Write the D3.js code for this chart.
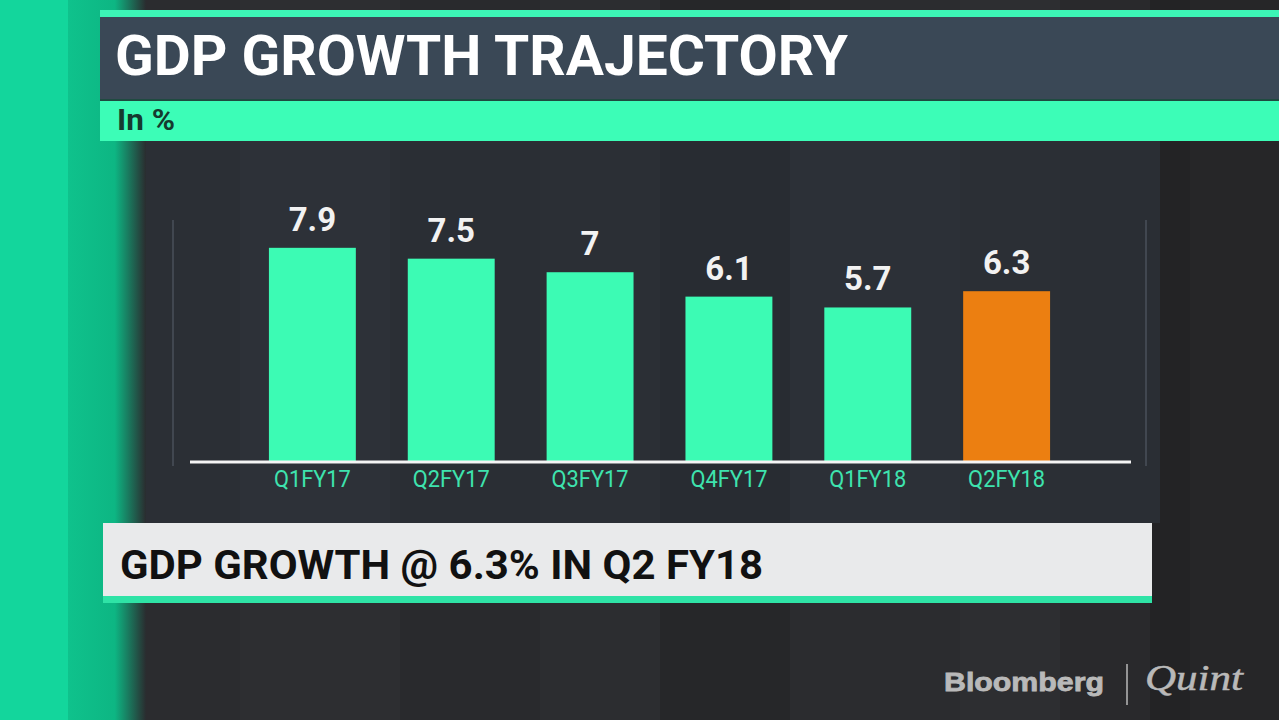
<!DOCTYPE html>
<html>
<head>
<meta charset="utf-8">
<script src="https://cdn.jsdelivr.net/npm/d3@7"></script>
<style>
  html, body { margin: 0; padding: 0; background: #28292c; overflow: hidden; }
  svg { display: block; }
</style>
</head>
<body>
<svg id="chart" width="1279" height="720"></svg>
<script>
// ---- data ----
const categories = ["Q1FY17", "Q2FY17", "Q3FY17", "Q4FY17", "Q1FY18", "Q2FY18"];
const growth = [7.9, 7.5, 7, 6.1, 5.7, 6.3];
const highlight = [false, false, false, false, false, true];
const titleText = "GDP GROWTH TRAJECTORY";
const unitText = "In %";
const captionText = "GDP GROWTH @ 6.3% IN Q2 FY18";

const svg = d3.select("#chart");
const W = 1279, H = 720;
const defs = svg.append("defs");

// left strip shadow gradient
const lg = defs.append("linearGradient").attr("id", "stripFade").attr("x1", 0).attr("x2", 1);
lg.append("stop").attr("offset", 0).attr("stop-color", "#0fc28c");
lg.append("stop").attr("offset", 0.6).attr("stop-color", "#0db683");
lg.append("stop").attr("offset", 1).attr("stop-color", "#2a2c2f");

// ---- background ----
svg.append("rect").attr("width", W).attr("height", H).attr("fill", "#28292c");
// subtle vertical stripes (decor)
const stripes = [[140, 100, "#2b2c2f"], [240, 160, "#2d2e31"], [400, 140, "#292a2d"], [540, 120, "#2c2d30"],
                 [660, 130, "#262729"], [790, 170, "#2b2c2f"], [960, 100, "#2d2e31"], [1060, 90, "#29292c"],
                 [1150, 40, "#232325"], [1190, 89, "#262628"]];
svg.append("g").selectAll("rect").data(stripes).join("rect")
  .attr("x", d => d[0]).attr("y", 0).attr("width", d => d[1]).attr("height", H).attr("fill", d => d[2]);

// chart panel
svg.append("rect").attr("x", 140).attr("y", 141).attr("width", 1020).attr("height", 382).attr("fill", "#2b2f35");
const panelStripes = [[240, 150, "#2d3138"], [400, 140, "#2a2e34"], [660, 130, "#282c32"], [790, 170, "#2c3037"], [1060, 100, "#2a2e34"]];
svg.append("g").selectAll("rect").data(panelStripes).join("rect")
  .attr("x", d => d[0]).attr("y", 141).attr("width", d => d[1]).attr("height", 382).attr("fill", d => d[2]);

// left green strip
svg.append("rect").attr("x", 0).attr("y", 0).attr("width", 68).attr("height", H).attr("fill", "#13d69c");
svg.append("rect").attr("x", 68).attr("y", 0).attr("width", 78).attr("height", H).attr("fill", "url(#stripFade)");

// ---- title block ----
svg.append("rect").attr("x", 100).attr("y", 10).attr("width", W - 100).attr("height", 7).attr("fill", "#3cf5b6");
svg.append("rect").attr("x", 100).attr("y", 17).attr("width", W - 100).attr("height", 83).attr("fill", "#3a4856");
svg.append("rect").attr("x", 100).attr("y", 99).attr("width", W - 100).attr("height", 2).attr("fill", "#1f4a40");
svg.append("rect").attr("x", 100).attr("y", 101).attr("width", W - 100).attr("height", 40).attr("fill", "#3cfdb7");

svg.append("text").attr("x", 115).attr("y", 75)
  .attr("font-family", "Roboto, 'Noto Sans', sans-serif").attr("font-weight", 700)
  .attr("font-size", 56).attr("fill", "#ffffff")
  .attr("textLength", 733).attr("lengthAdjust", "spacingAndGlyphs")
  .text(titleText);

svg.append("text").attr("x", 117).attr("y", 130)
  .attr("font-family", "Roboto, 'Noto Sans', sans-serif").attr("font-weight", 700)
  .attr("font-size", 29).attr("fill", "#153a2f")
  .attr("textLength", 58).attr("lengthAdjust", "spacingAndGlyphs")
  .text(unitText);

// ---- chart ----
const x = d3.scaleBand().domain(categories).range([199.5, 1119.5]).paddingInner(0.374).paddingOuter(0.5);
const y = d3.scaleLinear().domain([0, 9]).range([462, 218]);

// faint frame lines
svg.append("line").attr("x1", 173).attr("x2", 173).attr("y1", 220).attr("y2", 466).attr("stroke", "#4a515a").attr("stroke-width", 1.5);
svg.append("line").attr("x1", 1146).attr("x2", 1146).attr("y1", 220).attr("y2", 466).attr("stroke", "#4a515a").attr("stroke-width", 1.5);

const gBars = svg.append("g");
gBars.selectAll("rect").data(categories).join("rect")
  .attr("x", d => x(d))
  .attr("y", (d, i) => y(growth[i]))
  .attr("width", x.bandwidth())
  .attr("height", (d, i) => y(0) - y(growth[i]))
  .attr("fill", (d, i) => highlight[i] ? "#ec7f11" : "#3cfbb4");

gBars.selectAll("text").data(categories).join("text")
  .attr("x", d => x(d) + x.bandwidth() / 2)
  .attr("y", (d, i) => y(growth[i]) - 17)
  .attr("text-anchor", "middle")
  .attr("font-family", "Roboto, 'Noto Sans', sans-serif").attr("font-weight", 700)
  .attr("font-size", 33).attr("fill", "#f2f2f2")
  .text((d, i) => growth[i]);

// x axis
const xAxis = svg.append("g").attr("transform", "translate(0,462)")
  .call(d3.axisBottom(x).tickSize(0).tickPadding(10));
xAxis.select(".domain").remove();
xAxis.append("line").attr("x1", 190).attr("x2", 1131).attr("y1", 0).attr("y2", 0)
  .attr("stroke", "#f4f4f4").attr("stroke-width", 3);
xAxis.selectAll(".tick text")
  .attr("font-family", "Roboto, 'Noto Sans', sans-serif").attr("font-size", 23)
  .attr("fill", "#3ee3ae").attr("dy", "0.65em")
  .attr("textLength", 77).attr("lengthAdjust", "spacingAndGlyphs");

// ---- caption block ----
svg.append("rect").attr("x", 103).attr("y", 523).attr("width", 1049).attr("height", 74).attr("fill", "#e9eaeb");
svg.append("rect").attr("x", 103).attr("y", 596).attr("width", 1049).attr("height", 7).attr("fill", "#2fe3a6");
svg.append("text").attr("x", 120).attr("y", 579)
  .attr("font-family", "Roboto, 'Noto Sans', sans-serif").attr("font-weight", 700)
  .attr("font-size", 41).attr("fill", "#111111")
  .attr("textLength", 643).attr("lengthAdjust", "spacingAndGlyphs")
  .text(captionText);

// ---- logo ----
svg.append("text").attr("x", 944).attr("y", 691)
  .attr("font-family", "'Liberation Sans', Arial, sans-serif").attr("font-weight", 700)
  .attr("font-size", 26).attr("fill", "#b9b9b9").attr("stroke", "#b9b9b9").attr("stroke-width", 0.8)
  .attr("textLength", 160).attr("lengthAdjust", "spacingAndGlyphs")
  .text("Bloomberg");
svg.append("line").attr("x1", 1127).attr("x2", 1127).attr("y1", 664).attr("y2", 705)
  .attr("stroke", "#b9b9b9").attr("stroke-width", 1.5);
svg.append("text").attr("x", 1145).attr("y", 690)
  .attr("font-family", "'Liberation Serif', 'DejaVu Serif', serif").attr("font-style", "italic")
  .attr("font-size", 36).attr("fill", "#b9b9b9").attr("stroke", "#b9b9b9").attr("stroke-width", 0.5)
  .attr("textLength", 98).attr("lengthAdjust", "spacingAndGlyphs")
  .text("Quint");
</script>
</body>
</html>
